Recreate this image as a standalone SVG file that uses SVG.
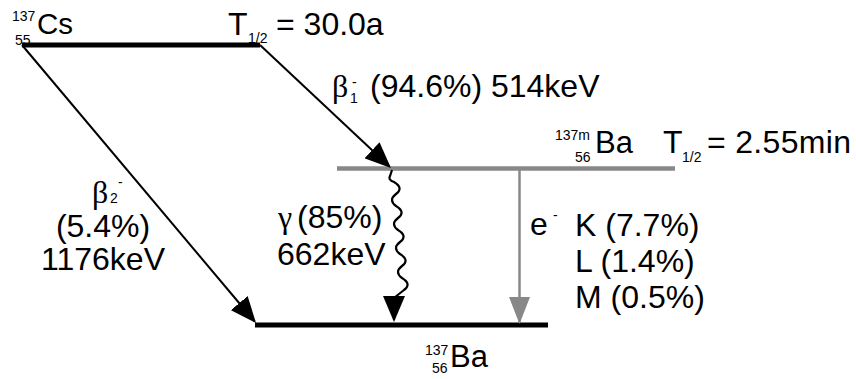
<svg xmlns="http://www.w3.org/2000/svg" width="856" height="379" viewBox="0 0 856 379">
<style>
.t{font-family:"Liberation Sans",Arial,sans-serif;font-size:32px;fill:#000}
.s{font-family:"Liberation Sans",Arial,sans-serif;font-size:14px;fill:#000}
.g{font-family:"Liberation Serif","Times New Roman",serif;font-size:32px;fill:#000}
.lvl{stroke:#000;stroke-width:5;fill:none}
.lvlg{stroke:#888;stroke-width:4.5;fill:none}
.arr{stroke:#000;stroke-width:2;fill:none;marker-end:url(#ah)}
.arrg{stroke:#888;stroke-width:2.5;fill:none;marker-end:url(#ahg)}
</style>
<defs>
<marker id="ah" markerUnits="userSpaceOnUse" viewBox="0 0 26 22" markerWidth="26" markerHeight="22" refX="24" refY="11" orient="auto">
<path d="M0,0 L26,11 L0,22 Z" fill="#000"/>
</marker>
<marker id="ahg" markerUnits="userSpaceOnUse" viewBox="0 0 27 21" markerWidth="27" markerHeight="21" refX="25" refY="10.5" orient="auto">
<path d="M0,0 L27,10.5 L0,21 Z" fill="#888"/>
</marker>
</defs>
<rect width="856" height="379" fill="#fff"/>

<g id="cs137">
<line class="lvl" x1="22" y1="45" x2="260" y2="45"/>
<text class="s" x="12" y="21">137</text>
<text class="t" x="37" y="34" style="font-size:29.5px">Cs</text>
<text class="s" x="15" y="45">55</text>
<text class="t" x="228" y="35">T</text>
<text class="s" x="248" y="43">1/2</text>
<text class="t" x="276" y="35">= 30.0a</text>
</g>

<g id="ba137m">
<line class="lvlg" x1="337" y1="168.5" x2="675" y2="168.5"/>
<text class="s" x="555" y="140">137m</text>
<text class="s" x="575" y="162">56</text>
<text class="t" x="595" y="153" style="font-size:31px">Ba</text>
<text class="t" x="663" y="153">T</text>
<text class="s" x="682" y="162">1/2</text>
<text class="t" x="707" y="153" textLength="144">= 2.55min</text>
</g>

<g id="ba137">
<line class="lvl" x1="255" y1="325" x2="548" y2="325"/>
<text class="s" x="425" y="355">137</text>
<text class="s" x="432" y="373">56</text>
<text class="t" x="450" y="367" style="font-size:31px">Ba</text>
</g>

<g id="connectors">
<g id="beta1">
<line class="arr" x1="260" y1="45" x2="389.5" y2="166.6"/>
<text class="g" x="332" y="97">β</text>
<text class="s" x="350" y="103">1</text>
<text class="s" x="352" y="87">-</text>
<text class="t" x="370" y="97">(94.6%) 514keV</text>
</g>
<g id="beta2">
<line class="arr" x1="22" y1="45" x2="254.7" y2="321.5"/>
<text class="g" x="92" y="203">β</text>
<text class="s" x="110" y="203">2</text>
<text class="s" x="118" y="187">-</text>
<text class="t" x="103" y="237" text-anchor="middle">(5.4%)</text>
<text class="t" x="103" y="270" text-anchor="middle">1176keV</text>
</g>
<g id="gamma">
<path class="arr" style="stroke-width:2.2" d="M392,170 L390,176 q-2,4 4,6 q10,6 2,12 q-8,6 0,12 q10,6 2,12 q-8,6 0,12 q10,6 2,12 q-8,6 0,12 q10,6 2,12 q-8,6 0,12 q10,6 2,12 L394,298 L394,320"/>
<text class="g" x="278" y="228">γ</text>
<text class="t" x="297" y="228">(85%)</text>
<text class="t" x="277" y="265">662keV</text>
</g>
<g id="ec">
<line class="arrg" x1="519.5" y1="170" x2="519.5" y2="322"/>
<text class="t" x="530" y="235">e</text>
<text class="s" x="553" y="220">-</text>
<text class="t" x="575" y="236">K (7.7%)</text>
<text class="t" x="575" y="272">L (1.4%)</text>
<text class="t" x="575" y="308">M (0.5%)</text>
</g>
</g>
</svg>
